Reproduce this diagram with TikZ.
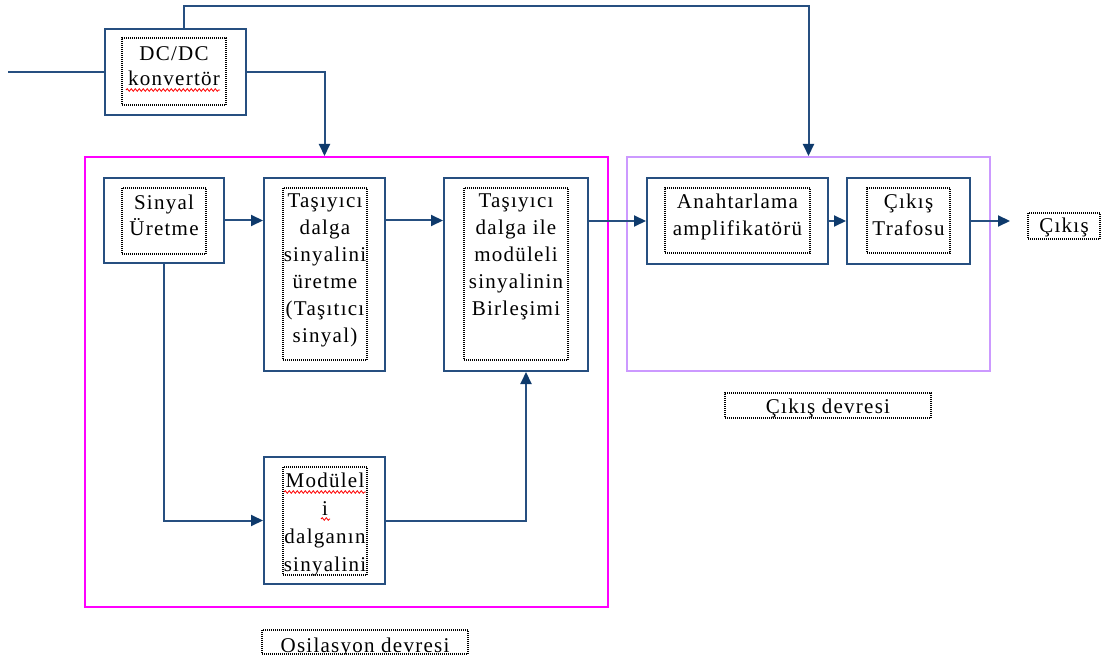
\documentclass[tikz,border=0pt]{standalone}
\usepackage{fontspec}
\setmainfont{Liberation Serif}[LetterSpace=6]
\usetikzlibrary{arrows.meta,decorations.pathmorphing}
\definecolor{lineblue}{RGB}{38,79,128}
\definecolor{tipblue}{RGB}{14,58,108}
\definecolor{oscpink}{RGB}{255,0,255}
\definecolor{outlilac}{RGB}{204,153,255}
% centred lines of block text, first baseline is the node's base
\newcommand\boxlines[2][26]{\parbox[t]{180pt}{\centering\fontsize{21}{#1}\selectfont #2}}

\begin{document}
\begin{tikzpicture}[x=1pt,y=-1pt,
  blk/.style={draw=lineblue,line width=2pt,fill=white,inner sep=0pt},
  grp/.style={line width=2pt,inner sep=0pt},
  dotbox/.style={draw=black,line width=1.2pt,dash pattern=on 1pt off 1pt,inner sep=0pt},
  txt/.style={anchor=base,inner sep=0pt},
  conn/.style={draw=lineblue,line width=2pt},
  arr/.style={conn,-{Triangle[length=12pt,width=11pt,color=tipblue]}},
  wavy/.style={draw=red,line width=0.8pt,decorate,decoration={snake,amplitude=1.3pt,segment length=4pt}}
]
\useasboundingbox (0,0) rectangle (1108,660);

% circuit groups
\node[grp,draw=oscpink,minimum width=523pt,minimum height=450pt] (osc) at (346.5,382) {};
\node[grp,draw=outlilac,minimum width=363pt,minimum height=214pt] (out) at (808.5,264) {};

% blocks
\node[blk,minimum width=141pt,minimum height=86pt] (dc) at (175.5,72) {};
\node[blk,minimum width=120pt,minimum height=85pt] (sig) at (164,220.5) {};
\node[blk,minimum width=121pt,minimum height=193pt] (car) at (324.5,274.5) {};
\node[blk,minimum width=144pt,minimum height=193pt] (comb) at (516,274.5) {};
\node[blk,minimum width=121pt,minimum height=127pt] (mod) at (324.5,520.5) {};
\node[blk,minimum width=181pt,minimum height=86pt] (amp) at (737.5,221) {};
\node[blk,minimum width=123pt,minimum height=86pt] (trf) at (908.5,221) {};

% connectors
\coordinate (src) at (8,72);
\coordinate (outend) at (1010,221);
\draw[conn] (src) -- (dc.west);
\draw[arr] ([xshift=8.5pt]dc.north) -- ++(0,-22) -| (out.north);
\draw[arr] (dc.east) -| (car.north |- osc.north);
\draw[arr] (sig.east) -- (sig.east -| car.west);
\draw[arr] (sig.east -| car.east) -- (sig.east -| comb.west);
\draw[arr] (comb.east |- amp.west) -- (amp.west);
\draw[arr] (amp.east) -- (trf.west);
\draw[arr] (trf.east) -- (outend);
\draw[arr] (sig.south) |- (mod.west);
\draw[arr] (mod.east) -| ([xshift=10pt]comb.south);

% dotted text frames
\node[dotbox,minimum width=104pt,minimum height=67pt] (dci) at (174,71.5) {};
\node[dotbox,minimum width=84pt,minimum height=66pt] (sigi) at (164,221) {};
\node[dotbox,minimum width=84pt,minimum height=172pt] (cari) at (325,274) {};
\node[dotbox,minimum width=104pt,minimum height=172pt] (combi) at (516,274) {};
\node[dotbox,minimum width=84pt,minimum height=108pt] (modi) at (325,521) {};
\node[dotbox,minimum width=145pt,minimum height=65pt] (ampi) at (737.5,220.5) {};
\node[dotbox,minimum width=83pt,minimum height=65pt] (trfi) at (908.5,220.5) {};
\node[dotbox,minimum width=72pt,minimum height=26pt] (outl) at (1064,226) {};
\node[dotbox,minimum width=206pt,minimum height=25pt] (outgl) at (828,405.5) {};
\node[dotbox,minimum width=206pt,minimum height=24pt] (oscl) at (365,642) {};

% block texts
\node[txt] (dct) at ([yshift=-23pt]dci.north) {\boxlines[25]{DC/DC\\konvertör}};
\node[txt] (sigt) at ([yshift=-22pt]sigi.north) {\boxlines{Sinyal\\Üretme}};
\node[txt] (cart) at ([yshift=-20pt]cari.north) {\boxlines[27]{Taşıyıcı\\dalga\\sinyalini\\üretme\\(Taşıtıcı\\sinyal)}};
\node[txt] (combt) at ([yshift=-20pt]combi.north) {\boxlines[27]{Taşıyıcı\\dalga ile\\modüleli\\sinyalinin\\Birleşimi}};
\node[txt] (ampt) at ([yshift=-21pt]ampi.north) {\boxlines[27]{Anahtarlama\\amplifikatörü}};
\node[txt] (trft) at ([yshift=-21pt]trfi.north) {\boxlines[27]{Çıkış\\Trafosu}};
\begin{scope}
  \clip (modi.north west) rectangle (modi.south east);
  \node[txt] (modt) at ([yshift=-21pt]modi.north) {\boxlines[28]{Modülel\\i\\dalganın\\sinyalini}};
\end{scope}

% labels
\node[txt] (outlt) at ([yshift=-20pt]outl.north) {\boxlines{Çıkış}};
\begin{scope}
  \clip (outgl.north west) rectangle (outgl.south east);
  \node[txt] (outglt) at ([yshift=-21pt]outgl.north) {\boxlines{Çıkış devresi}};
\end{scope}
\begin{scope}
  \clip (oscl.north west) rectangle (oscl.south east);
  \node[txt] (osclt) at ([yshift=-23pt]oscl.north) {\boxlines{Osilasyon devresi}};
\end{scope}

% spell-check underlines
\draw[wavy] (126,90) -- (220,90);
\draw[wavy] (284,492) -- (366,492);
\draw[wavy] (321,519) -- (330,519);
\end{tikzpicture}
\end{document}
